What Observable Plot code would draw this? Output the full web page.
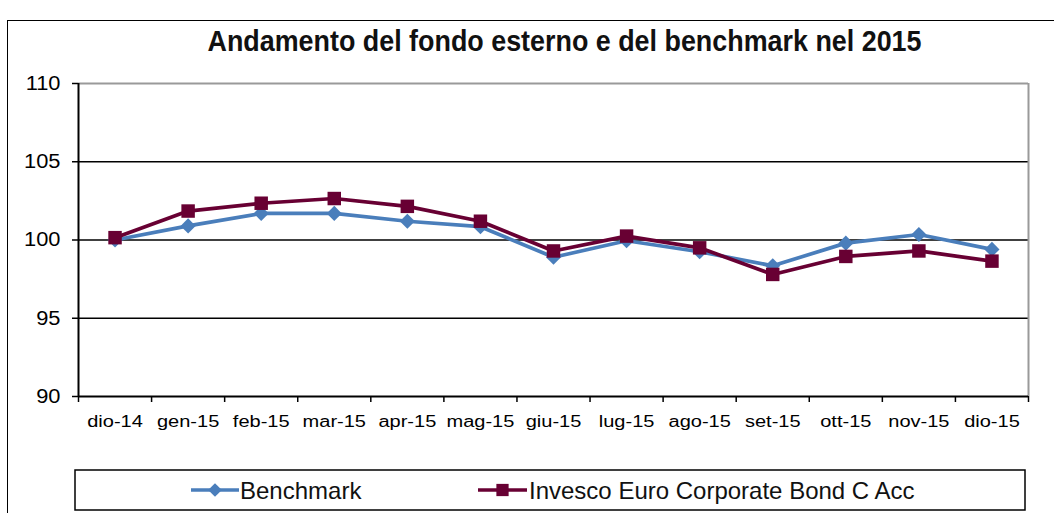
<!DOCTYPE html>
<html>
<head>
<meta charset="utf-8">
<script src="https://cdn.jsdelivr.net/npm/d3@7"></script>
<script src="https://cdn.jsdelivr.net/npm/@observablehq/plot@0.6"></script>
<style>
  html, body { margin: 0; padding: 0; background: #fff; }
  #wrap { position: relative; width: 1054px; height: 513px; overflow: hidden; background: #fff; font-family: "Liberation Sans", Arial, sans-serif; }
  #frame { position: absolute; left: 7px; top: 20px; width: 1100px; height: 600px; border-left: 1.5px solid #000; border-top: 1.5px solid #000; }
  #title { position: absolute; left: 0; top: 0; }
  #chart { position: absolute; left: 0; top: 60px; }
  #legend { position: absolute; left: 0; top: 460px; }
</style>
</head>
<body>
<div id="wrap">
  <div id="frame"></div>
  <svg id="title" width="1054" height="60"></svg>
  <div id="chart"></div>
  <svg id="legend" width="1054" height="53"></svg>
</div>
<script>
const titleText = "Andamento del fondo esterno e del benchmark nel 2015";
const months = ["dio-14","gen-15","feb-15","mar-15","apr-15","mag-15","giu-15","lug-15","ago-15","set-15","ott-15","nov-15","dio-15"];
const benchmark = [100.0, 100.9, 101.7, 101.7, 101.2, 100.85, 98.9, 99.95, 99.25, 98.35, 99.8, 100.35, 99.4];
const invesco   = [100.15, 101.85, 102.35, 102.65, 102.15, 101.2, 99.3, 100.25, 99.5, 97.8, 98.95, 99.3, 98.65];
const yTicks = [90, 95, 100, 105, 110];
const seriesNames = ["Benchmark", "Invesco Euro Corporate Bond C Acc"];
const blue = "#4A7EBB";
const maroon = "#680033";

// Title
const ts = d3.select("#title");
ts.append("text")
  .attr("x", 564.5).attr("y", 51)
  .attr("text-anchor", "middle")
  .attr("font-family", "Liberation Sans, Arial, sans-serif")
  .attr("font-weight", "bold")
  .attr("font-size", 29)
  .attr("fill", "#111")
  .attr("textLength", 714)
  .attr("lengthAdjust", "spacingAndGlyphs")
  .text(titleText);

const idx = d3.range(months.length);

const chart = Plot.plot({
  width: 1054,
  height: 380,
  marginTop: 23,
  marginBottom: 44,
  marginLeft: 78,
  marginRight: 26,
  style: { fontFamily: "Liberation Sans, Arial, sans-serif", color: "#000", background: "transparent" },
  x: { type: "linear", domain: [-0.5, months.length - 0.5] },
  y: { domain: [90, 110] },
  marks: [
    Plot.gridY([95, 100, 105], { stroke: "#000", strokeOpacity: 1, strokeWidth: 1.6 }),
    Plot.ruleY([110], { stroke: "#9a9a9a", strokeWidth: 2 }),
    Plot.ruleX([months.length - 0.5], { stroke: "#9a9a9a", strokeWidth: 2 }),
    Plot.axisY({ ticks: yTicks, tickSize: 6, tickPadding: 12, fontSize: 19.5, label: null, strokeWidth: 1.5 }),
    Plot.axisX({ ticks: idx, tickFormat: i => months[i], tickSize: 0, tickPadding: 19, fontSize: 16, label: null }),
    Plot.axisX({ ticks: d3.range(-0.5, months.length, 1), tickFormat: () => "", tickSize: 6, label: null, strokeWidth: 1.5 }),
    Plot.ruleX([-0.5], { stroke: "#000", strokeWidth: 2 }),
    Plot.ruleY([90], { stroke: "#000", strokeWidth: 2 }),
    Plot.line(benchmark, { x: (d, i) => i, y: d => d, stroke: blue, strokeWidth: 3.7 }),
    Plot.dot(benchmark, { x: (d, i) => i, y: d => d, symbol: "diamond2", r: 6.8, fill: blue, stroke: "none" }),
    Plot.line(invesco, { x: (d, i) => i, y: d => d, stroke: maroon, strokeWidth: 3.7 }),
    Plot.dot(invesco, { x: (d, i) => i, y: d => d, symbol: "square", r: 7.6, fill: maroon, stroke: "none" })
  ]
});
document.getElementById("chart").appendChild(chart);

// Stretch tick labels horizontally to match the reference rendering
function stretch(sel, k) {
  chart.querySelectorAll(sel).forEach(t => {
    const w = t.getComputedTextLength();
    if (w > 0) {
      t.setAttribute("textLength", w * k);
      t.setAttribute("lengthAdjust", "spacingAndGlyphs");
    }
  });
}
stretch('g[aria-label="x-axis tick label"] text', 1.25);
stretch('g[aria-label="y-axis tick label"] text', 1.12);

// Legend
const lg = d3.select("#legend");
lg.append("rect").attr("x", 75).attr("y", 10).attr("width", 950).attr("height", 40)
  .attr("fill", "none").attr("stroke", "#000").attr("stroke-width", 1.5);
const items = [
  { name: seriesNames[0], color: blue, x0: 191, x1: 239, tx: 240, sym: d3.symbolDiamond2, size: 120 },
  { name: seriesNames[1], color: maroon, x0: 478, x1: 527, tx: 529, sym: d3.symbolSquare, size: 150 }
];
items.forEach(it => {
  lg.append("line").attr("x1", it.x0).attr("x2", it.x1).attr("y1", 30).attr("y2", 30)
    .attr("stroke", it.color).attr("stroke-width", 3.5);
  lg.append("path").attr("d", d3.symbol(it.sym, it.size)())
    .attr("transform", `translate(${(it.x0 + it.x1) / 2},30)`).attr("fill", it.color);
  lg.append("text").attr("x", it.tx).attr("y", 39)
    .attr("font-family", "Liberation Sans, Arial, sans-serif")
    .attr("font-size", 24).attr("fill", "#111").text(it.name);
});
</script>
</body>
</html>
